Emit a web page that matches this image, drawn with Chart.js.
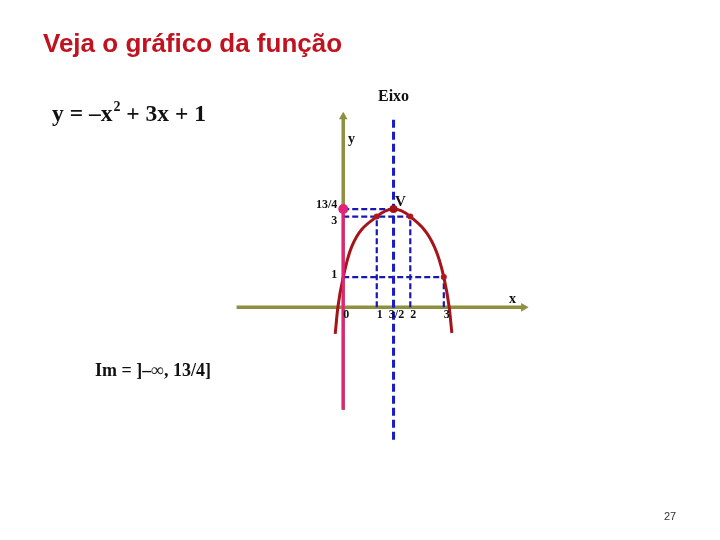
<!DOCTYPE html>
<html>
<head>
<meta charset="utf-8">
<script src="https://cdn.jsdelivr.net/npm/chart.js@4"></script>
<style>
html, body { margin: 0; padding: 0; background: #fff; }
canvas { display: block; }
</style>
</head>
<body>
<canvas id="chart1" width="720" height="540"></canvas>
<script>
var curveX = [-0.24, -0.16, 0, 0.25, 1, 1.5, 2, 2.72, 3, 3.16, 3.24];
var curveY = [-0.88, 0, 1, 2, 3, 3.25, 3, 2, 1, 0, -0.85];
var markedX = [1, 2, 3];
var markedY = [3, 3, 1];
var vertexX = [1.5];
var vertexY = [3.25];
var xTicks = [0, 1, 1.5, 2, 3];
var xTickLabels = ['0', '1', '3/2', '2', '3'];
var yTicks = [3.25, 3, 1];
var yTickLabels = ['13/4', '3', '1'];
// dashed guides: x1, y1, x2, y2
var guides = [
  [0, 3.25, 1.5, 3.25],
  [0, 3, 2, 3],
  [0, 1, 3, 1],
  [1, 0, 1, 3],
  [2, 0, 2, 3],
  [3, 0, 3, 1]
];
var xAxisRange = [-3.18, 5.38];
var yAxisRange = [-3.4, 6.3];
var eixoRange = [-4.45, 6.2];
var imageRange = [-3.38, 3.25];

function pts(xs, ys) {
  return xs.map(function (x, i) { return { x: x, y: ys[i] }; });
}

var datasets = [];

datasets.push({
  data: pts(markedX, markedY),
  showLine: false,
  pointRadius: 3,
  pointBackgroundColor: '#b0161c',
  pointBorderWidth: 0,
  order: 1
});
datasets.push({
  data: pts(vertexX, vertexY),
  showLine: false,
  pointRadius: 4,
  pointBackgroundColor: '#a31218',
  pointBorderWidth: 0,
  order: 1
});
// image interval on the y axis
datasets.push({
  data: [{ x: 0, y: imageRange[1] }, { x: 0, y: imageRange[0] }],
  showLine: true,
  borderColor: '#e0247c',
  borderWidth: 3,
  pointRadius: [5, 0],
  pointBackgroundColor: '#e0247c',
  pointBorderWidth: 0,
  order: 2
});
datasets.push({
  data: pts(curveX, curveY),
  showLine: true,
  cubicInterpolationMode: 'monotone',
  borderColor: '#a5141a',
  borderWidth: 3,
  pointRadius: 0,
  order: 3
});
// axis of symmetry
datasets.push({
  data: [{ x: 1.5, y: eixoRange[1] }, { x: 1.5, y: eixoRange[0] }],
  showLine: true,
  borderColor: '#1a1ac8',
  borderWidth: 3,
  borderDash: [8, 4],
  pointRadius: 0,
  order: 4
});
guides.forEach(function (g) {
  datasets.push({
    data: [{ x: g[0], y: g[1] }, { x: g[2], y: g[3] }],
    showLine: true,
    borderColor: '#1818b0',
    borderWidth: 2.2,
    borderDash: [6, 3],
    pointRadius: 0,
    order: 6
  });
});
// axes with arrow heads
datasets.push({
  data: [{ x: xAxisRange[0], y: 0 }, { x: xAxisRange[1], y: 0 }],
  showLine: true,
  borderColor: '#8f8f40',
  borderWidth: 3.5,
  pointStyle: 'triangle',
  pointRotation: [0, 90],
  pointRadius: [0, 5],
  pointBackgroundColor: '#8f8f40',
  pointBorderWidth: 0,
  order: 9
});
datasets.push({
  data: [{ x: 0, y: yAxisRange[0] }, { x: 0, y: yAxisRange[1] }],
  showLine: true,
  borderColor: '#8f8f40',
  borderWidth: 3.5,
  pointStyle: 'triangle',
  pointRotation: [0, 0],
  pointRadius: [0, 5],
  pointBackgroundColor: '#8f8f40',
  pointBorderWidth: 0,
  order: 9
});

var textPlugin = {
  id: 'texts',
  afterDraw: function (chart) {
    var ctx = chart.ctx;
    var sx = chart.scales.x, sy = chart.scales.y;
    var x0 = sx.getPixelForValue(0), y0 = sy.getPixelForValue(0);
    ctx.save();
    ctx.textBaseline = 'alphabetic';
    ctx.textAlign = 'left';

    ctx.fillStyle = '#c1121f';
    ctx.font = 'bold 26px "Liberation Sans", Arial, sans-serif';
    ctx.fillText('Veja o gráfico da função', 43, 52);

    ctx.fillStyle = '#111';
    ctx.font = 'bold 23.5px "Liberation Serif", "Times New Roman", serif';
    var s1 = 'y = –x';
    ctx.fillText(s1, 52, 121);
    var w = ctx.measureText(s1).width;
    ctx.font = 'bold 14px "Liberation Serif", serif';
    ctx.fillText('2', 52 + w + 1, 111);
    var w2 = ctx.measureText('2').width;
    ctx.font = 'bold 23.5px "Liberation Serif", "Times New Roman", serif';
    ctx.fillText(' + 3x + 1', 52 + w + w2 + 1, 121);

    ctx.font = 'bold 18px "Liberation Serif", serif';
    ctx.fillText('Im = ]–∞, 13/4]', 95, 376);

    ctx.font = 'bold 16px "Liberation Serif", serif';
    ctx.fillText('Eixo', 378, 101);
    ctx.font = 'bold 14px "Liberation Serif", serif';
    ctx.fillText('y', 348, 143);
    ctx.font = 'bold 14px "Liberation Serif", serif';
    ctx.fillText('x', 509, 303);
    ctx.font = 'bold 15px "Liberation Serif", serif';
    ctx.fillText('V', 395, 206);

    // tick labels
    ctx.font = 'bold 12px "Liberation Serif", serif';
    ctx.textAlign = 'center';
    xTicks.forEach(function (v, i) {
      ctx.fillText(xTickLabels[i], sx.getPixelForValue(v) + 3, y0 + 11);
    });
    var nudge = [-4, 4, -2];
    ctx.textAlign = 'right';
    ctx.textBaseline = 'middle';
    yTicks.forEach(function (v, i) {
      ctx.fillText(yTickLabels[i], x0 - 6, sy.getPixelForValue(v) + nudge[i]);
    });

    ctx.textAlign = 'left';
    ctx.textBaseline = 'alphabetic';
    ctx.fillStyle = '#333';
    ctx.font = '11px "Liberation Sans", Arial, sans-serif';
    ctx.fillText('27', 664, 520);
    ctx.restore();
  }
};

var myChart = new Chart(document.getElementById('chart1'), {
  type: 'scatter',
  data: { datasets: datasets },
  options: {
    responsive: false,
    animation: false,
    layout: { padding: 0 },
    plugins: { legend: { display: false }, tooltip: { enabled: false } },
    scales: {
      x: { type: 'linear', display: false, min: -343 / 34, max: 377 / 34 },
      y: { type: 'linear', display: false, min: -232 / 30.8, max: 10 }
    }
  },
  plugins: [textPlugin]
});
</script>
</body>
</html>
